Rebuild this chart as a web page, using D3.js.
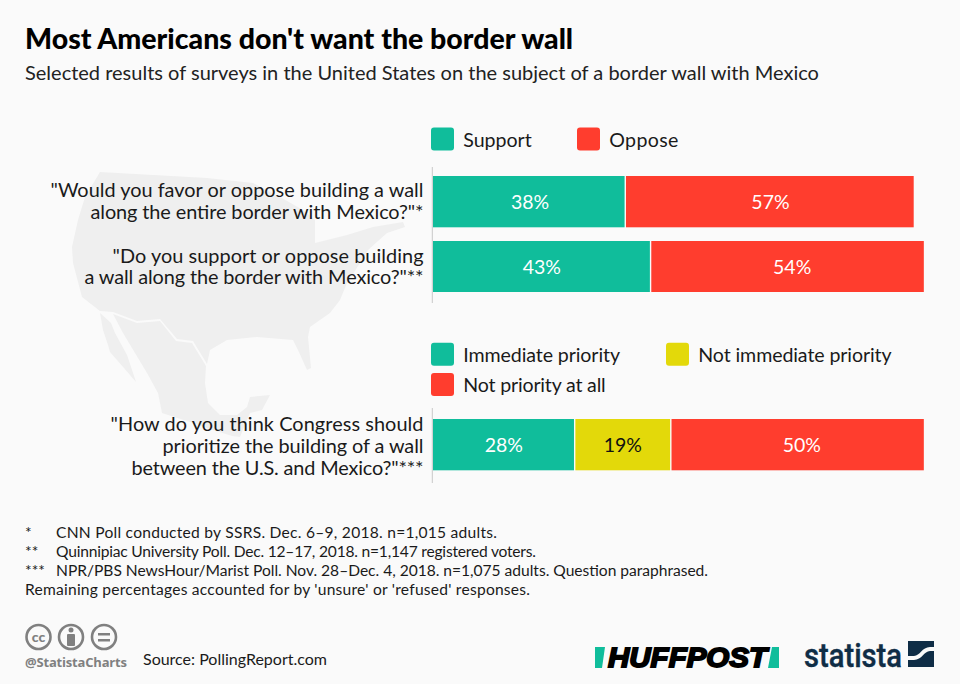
<!DOCTYPE html>
<html><head><meta charset="utf-8">
<script src="https://cdn.jsdelivr.net/npm/d3@7"></script>
<style>html,body{margin:0;padding:0;background:#fafafa}svg{display:block}text{font-family:Lato,"Open Sans",sans-serif}</style>
</head><body><svg id="c" width="960" height="684"></svg>
<script>
const titleText="Most Americans don't want the border wall";
const subtitleText="Selected results of surveys in the United States on the subject of a border wall with Mexico";
const supportSeries=["Support","Oppose"];
const prioritySeries=["Immediate priority","Not immediate priority","Not priority at all"];
const q1=['"Would you favor or oppose building a wall','along the entire border with Mexico?"*'];
const q2=['"Do you support or oppose building','a wall along the border with Mexico?"**'];
const q3=['"How do you think Congress should','prioritize the building of a wall','between the U.S. and Mexico?"***'];
const q1Values=[38,57];
const q2Values=[43,54];
const q3Values=[28,19,50];
const notes=[["*","CNN Poll conducted by SSRS. Dec. 6–9, 2018. n=1,015 adults."],["**","Quinnipiac University Poll. Dec. 12–17, 2018. n=1,147 registered voters."],["***","NPR/PBS NewsHour/Marist Poll. Nov. 28–Dec. 4, 2018. n=1,075 adults. Question paraphrased."],["","Remaining percentages accounted for by 'unsure' or 'refused' responses."]];
const colors={green:"#10bd9b",red:"#ff3d2e",yellow:"#e3d90a"};
const svg=d3.select("#c");
const x=d3.scaleLinear().domain([0,100]).range([433,939]);
function txt(s,X,Y,size,o={}){const t=svg.append("text").attr("x",X).attr("y",Y).attr("font-size",size).attr("fill",o.fill||"#1a1a1a").attr("font-weight",o.w||400).attr("text-anchor",o.a||"start").text(s);if(o.f)t.style("font-family",o.f);if(o.len)t.attr("textLength",o.len).attr("lengthAdjust","spacing");return t;}
const mapFill="#efefef";
svg.append("path").attr("fill",mapFill).attr("d","M100,172 L207,178 L253,183 L280,197 L303,210 L315,220 L315,243 L347,235 L373,227 L403,222 L405,227 L387,233 L368,250 L360,263 L347,283 L340,300 L330,313 L310,327 L308,337 L311,368 L307,370 L298,350 L293,340 L257,337 L227,340 L210,350 L207,364 L193,341 L177,339 L160,319 L137,321 L113,312 L100,311 L82,297 L73,263 L72,247 L78,220 L85,197 Z");
svg.append("path").attr("fill",mapFill).attr("d","M113,314 L137,323 L160,321 L176,341 L192,343 L206,366 L205,383 L208,403 L220,415 L237,415 L247,407 L250,397 L270,395 L262,410 L250,413 L247,420 L240,437 L232,436 L213,430 L190,422 L162,413 L158,393 L147,373 L123,333 Z");
svg.append("path").attr("fill",mapFill).attr("d","M100,313 L111,323 L115,333 L127,355 L136,382 L124,368 L110,352 L108,345 L103,330 Z");
txt(titleText,25,49,28.5,{w:900,fill:"#000"});
txt(subtitleText,25,80,20,{fill:"#222"});
function legend(X,Y,s,c,len){svg.append("rect").attr("x",X).attr("y",Y).attr("width",23).attr("height",23).attr("rx",3).attr("fill",c);txt(s,X+32.3,Y+19,19.6,{len});}
legend(431,127.5,supportSeries[0],colors.green,68.4);legend(577,127.5,supportSeries[1],colors.red,69);
legend(431,342.7,prioritySeries[0],colors.green,156.7);legend(666,342.7,prioritySeries[1],colors.yellow,193.3);legend(431,373,prioritySeries[2],colors.red,142.4);
function axisLine(y1,y2){svg.append("line").attr("x1",432.3).attr("x2",432.3).attr("y1",y1).attr("y2",y2).attr("stroke","#c8c8c8").attr("stroke-width",1);}
axisLine(167,303);axisLine(408,483);
function row(vals,cols,Y,H,lines,lineY,nudge,lens){
 let acc=0;
 vals.forEach((v,i)=>{
  const a=x(acc),b=x(acc+v);
  svg.append("rect").attr("x",a+(i?0.7:0)).attr("y",Y).attr("width",b-a-(i?0.7:0)-(i<vals.length-1?0.7:0)).attr("height",H).attr("fill",cols[i]);
  txt(v+"%",(a+b)/2+nudge[i],Y+H/2+7,19.5,{a:"middle",fill:cols[i]===colors.yellow?"#111":"#fff"});
  acc+=v;
 });
 lines.forEach((l,i)=>txt(l,423.5,lineY+i*21.8,19.9,{a:"end",len:lens[i]}));
}
row(q1Values,[colors.green,colors.red],176,51.3,q1,197,[1,1],[373,333]);
row(q2Values,[colors.green,colors.red],241,51,q2,262.5,[0,5],[311,339]);
row(q3Values,[colors.green,colors.yellow,colors.red],419,51.3,q3,431,[0,0,4.5],[313,261,292]);
const noteLens=[441,480,652,505];
notes.forEach((n,i)=>{const Y=538+i*19;if(n[0]){txt(n[0],25,Y,15.6);txt(n[1],56,Y,15.6,{len:noteLens[i]});}else txt(n[1],25,Y,15.6,{len:noteLens[i]});});
// footer
[38.5,71,104].forEach(cx=>{svg.append("circle").attr("cx",cx).attr("cy",637).attr("r",12).attr("fill","none").attr("stroke","#808080").attr("stroke-width",2.6);});
txt("cc",38.5,642,14,{a:"middle",w:900,fill:"#808080"});
svg.append("circle").attr("cx",71).attr("cy",630).attr("r",2.5).attr("fill","#808080");
svg.append("rect").attr("x",67).attr("y",634).attr("width",8).attr("height",12).attr("rx",1).attr("fill","#808080");
svg.append("rect").attr("x",98).attr("y",633).attr("width",12).attr("height",2.5).attr("fill","#808080");
svg.append("rect").attr("x",98).attr("y",639).attr("width",12).attr("height",2.5).attr("fill","#808080");
txt("@StatistaCharts",25,667,13,{w:700,fill:"#808080",f:"Open Sans",len:102});
txt("Source: PollingReport.com",143,665,16);
svg.append("path").attr("fill",colors.green).attr("d","M595,647 H605 L602,668 H595 Z M772,647 H779 V668 H768 Z");
txt("HUFFPOST",608,667,27,{w:700,fill:"#000",f:"Liberation Sans"}).attr("font-style","italic").attr("stroke","#000").attr("stroke-width",1.8).attr("textLength",159).attr("lengthAdjust","spacingAndGlyphs");
txt("statista",804,667,33,{w:500,fill:"#0f2d46",f:"Roboto"}).attr("stroke","#0f2d46").attr("stroke-width",0.4).attr("textLength",98).attr("lengthAdjust","spacingAndGlyphs");
svg.append("path").attr("fill","#0f2d46").attr("d","M908,641 H934 V667 H908 Z");
svg.append("path").attr("fill","#fafafa").attr("d","M908,656 H914 C920,656 922,647 930,647 H934 V651 H930 C924,651 922,660 914,660 H908 Z");
</script></body></html>
